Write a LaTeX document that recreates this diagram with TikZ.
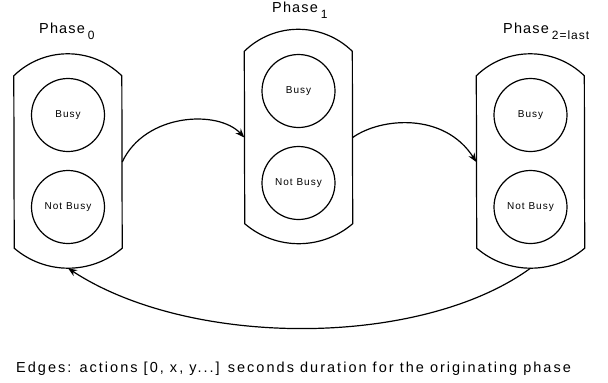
\documentclass[tikz,border=0pt]{standalone}
\usepackage{fontspec}
\setmainfont{Liberation Sans}
\newfontfamily\edgefont[LetterSpace=14]{Liberation Sans}
\newfontfamily\phasefont[LetterSpace=8]{Liberation Sans}
\newfontfamily\subfont[LetterSpace=8]{Liberation Sans}
\newfontfamily\statefont[LetterSpace=10]{Liberation Sans}
\usetikzlibrary{arrows.meta}
\tikzset{
  frame/.style={minimum width=108pt, minimum height=172pt, inner sep=0pt, draw=none},
  state/.style={circle, draw, line width=1.2pt, minimum size=73pt, inner sep=0pt,
                font=\statefont\fontsize{10}{12}\selectfont},
  outline/.style={line width=1.2pt},
  edge/.style={line width=1.2pt, -{Stealth[length=9pt,width=7pt]}},
  phaselbl/.style={anchor=base west, inner sep=0pt, font=\phasefont\fontsize{14.5}{16}\selectfont},
}
\newcommand{\phaseoutline}[1]{%
  \draw[outline] (#1.north west) arc[start angle=134.33, end angle=45.67, radius=77.3pt]
    -- (#1.south east) arc[start angle=-49.36, end angle=-130.64, radius=82.9pt] -- cycle;}
\begin{document}
\begin{tikzpicture}[x=1pt,y=1pt]
\useasboundingbox (0,0) rectangle (608,-383);
% containers
\node[frame] (p0) at (68,-162) {};
\node[frame] (p1) at (298.5,-137.5) {};
\node[frame] (p2) at (530.5,-162) {};
\phaseoutline{p0}
\phaseoutline{p1}
\phaseoutline{p2}
% states
\node[state] (b0) at (68,-115) {Busy};
\node[state] (n0) at (68,-207) {Not Busy};
\node[state] (b1) at (298.5,-91) {Busy};
\node[state] (n1) at (298.5,-183) {Not Busy};
\node[state] (b2) at (530.5,-115) {Busy};
\node[state] (n2) at (530.5,-207) {Not Busy};
% labels
\node[phaselbl] (l0) at (39,-33) {Phase\kern3pt\raisebox{-6pt}{\subfont\fontsize{12}{12}\selectfont 0}};
\node[phaselbl] (l1) at (272,-12) {Phase\kern3pt\raisebox{-6pt}{\subfont\fontsize{12}{12}\selectfont 1}};
\node[phaselbl] (l2) at (503,-33) {Phase\kern3pt\raisebox{-6pt}{\subfont\fontsize{12}{12}\selectfont 2=last}};
% bottom points
\coordinate (p0b) at ([yshift=-20pt]p0.south);
\coordinate (p2b) at ([yshift=-20pt]p2.south);
% edges
\draw[edge] (p0.east) .. controls +(23,49) and +(-26,28) .. (p1.west);
\draw[edge] (p1.east) .. controls +(28,20) and +(-32,50) .. (p2.west);
\draw[edge] (p2b) .. controls +(-110,-80) and +(122,-80) .. (p0b);
% caption
\node[anchor=base west, inner sep=0pt, font=\edgefont\fontsize{14.5}{16}\selectfont] (cap) at (16,-372)
  {Edges: actions [0, x, y...] seconds duration for the originating phase};
\end{tikzpicture}
\end{document}
